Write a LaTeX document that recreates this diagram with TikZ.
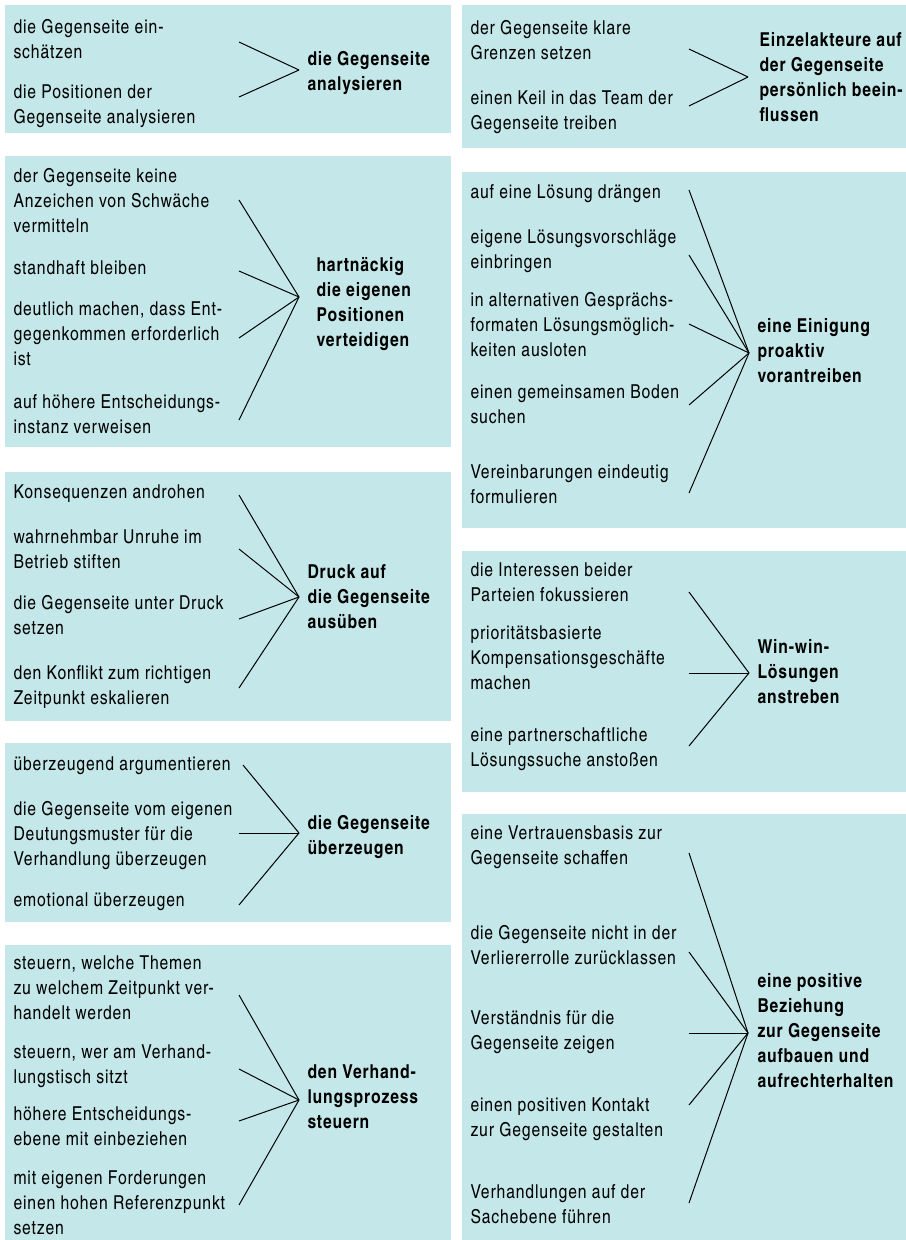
\documentclass[tikz,border=0pt]{standalone}
\usepackage{fontspec}
\setmainfont{texgyreheroscn}[Extension=.otf,UprightFont=*-regular,BoldFont=*-bold,LetterSpace=4.5]
\definecolor{boxblue}{RGB}{196,231,233}

\begin{document}
\begin{tikzpicture}[x=0.6pt,y=-0.6pt,line width=0.6pt,
    item/.style={anchor=base west,align=left,inner sep=0pt,
      font=\fontsize{11.5}{15}\selectfont},
    goal/.style={item,font=\fontsize{11.5}{15}\selectfont\bfseries},
    panel/.style={fill=boxblue}]

  \useasboundingbox (0,0) rectangle (906,1240);

  % left column
  \fill[panel] (5,5) rectangle (451,133);
  \node[item] (a_1) at (13,58) {die Gegenseite ein-\\schätzen};
  \node[item] (a_2) at (13,123) {die Positionen der\\Gegenseite analysieren};
  \coordinate (h_a) at (299,70);
  \node[goal] (g_a) at (307,90) {die Gegenseite\\analysieren};
  \foreach \y [count=\i] in {42,97}
    {\coordinate (sa_\i) at (239,\y); \draw (sa_\i) -- (h_a);}

  \fill[panel] (5,156) rectangle (451,447);
  \node[item] (b_1) at (13,232) {der Gegenseite keine\\Anzeichen von Schwäche\\vermitteln};
  \node[item] (b_2) at (13,274) {standhaft bleiben};
  \node[item] (b_3) at (13,365) {deutlich machen, dass Ent-\\gegenkommen erforderlich\\ist};
  \node[item] (b_4) at (13,433) {auf höhere Entscheidungs-\\instanz verweisen};
  \coordinate (h_b) at (299,297);
  \node[goal] (g_b) at (316,346) {hartnäckig\\die eigenen\\Positionen\\verteidigen};
  \foreach \y [count=\i] in {200,271,338,420}
    {\coordinate (sb_\i) at (239,\y); \draw (sb_\i) -- (h_b);}

  \fill[panel] (5,472) rectangle (451,721);
  \node[item] (c_1) at (13,498) {Konsequenzen androhen};
  \node[item] (c_2) at (13,568) {wahrnehmbar Unruhe im\\Betrieb stiften};
  \node[item] (c_3) at (13,634) {die Gegenseite unter Druck\\setzen};
  \node[item] (c_4) at (13,704) {den Konflikt zum richtigen\\Zeitpunkt eskalieren};
  \coordinate (h_c) at (299,597);
  \node[goal] (g_c) at (307,628) {Druck auf\\die Gegenseite\\ausüben};
  \foreach \y [count=\i] in {495,549,619,688}
    {\coordinate (sc_\i) at (239,\y); \draw (sc_\i) -- (h_c);}

  \fill[panel] (5,743) rectangle (451,922);
  \node[item] (d_1) at (13,770) {überzeugend argumentieren};
  \node[item] (d_2) at (13,865) {die Gegenseite vom eigenen\\Deutungsmuster für die\\Verhandlung überzeugen};
  \node[item] (d_3) at (13,906) {emotional überzeugen};
  \coordinate (h_d) at (299,833);
  \node[goal] (g_d) at (307,854) {die Gegenseite\\überzeugen};
  \foreach \x/\y [count=\i] in {243/765,239/833,239/905}
    {\coordinate (sd_\i) at (\x,\y); \draw (sd_\i) -- (h_d);}

  \fill[panel] (5,945) rectangle (451,1240);
  \node[item] (e_1) at (13,1019) {steuern, welche Themen\\zu welchem Zeitpunkt ver-\\handelt werden};
  \node[item] (e_2) at (13,1083) {steuern, wer am Verhand-\\lungstisch sitzt};
  \node[item] (e_3) at (13,1145) {höhere Entscheidungs-\\ebene mit einbeziehen};
  \node[item] (e_4) at (13,1234) {mit eigenen Forderungen\\einen hohen Referenzpunkt\\setzen};
  \coordinate (h_e) at (299,1100);
  \node[goal] (g_e) at (307,1128) {den Verhand-\\lungsprozess\\steuern};
  \foreach \y [count=\i] in {995,1069,1121,1205}
    {\coordinate (se_\i) at (239,\y); \draw (se_\i) -- (h_e);}

  % right column
  \fill[panel] (462,5) rectangle (906,148);
  \node[item] (f_1) at (470,59) {der Gegenseite klare\\Grenzen setzen};
  \node[item] (f_2) at (470,129) {einen Keil in das Team der\\Gegenseite treiben};
  \coordinate (h_f) at (748,77);
  \node[goal] (g_f) at (759,121) {Einzelakteure auf\\der Gegenseite\\persönlich beein-\\flussen};
  \foreach \y [count=\i] in {49,106}
    {\coordinate (sf_\i) at (689,\y); \draw (sf_\i) -- (h_f);}

  \fill[panel] (462,172) rectangle (906,528);
  \node[item] (k_1) at (470,198) {auf eine Lösung drängen};
  \node[item] (k_2) at (470,268) {eigene Lösungsvorschläge\\einbringen};
  \node[item] (k_3) at (470,356) {in alternativen Gesprächs-\\formaten Lösungsmöglich-\\keiten ausloten};
  \node[item] (k_4) at (470,423) {einen gemeinsamen Boden\\suchen};
  \node[item] (k_5) at (470,503) {Vereinbarungen eindeutig\\formulieren};
  \coordinate (h_k) at (749,353);
  \node[goal] (g_k) at (757,382) {eine Einigung\\proaktiv\\vorantreiben};
  \foreach \y [count=\i] in {190,255,324,405,493}
    {\coordinate (sk_\i) at (689,\y); \draw (sk_\i) -- (h_k);}

  \fill[panel] (462,551) rectangle (906,792);
  \node[item] (w_1) at (470,601) {die Interessen beider\\Parteien fokussieren};
  \node[item] (w_2) at (470,689) {prioritätsbasierte\\Kompensationsgeschäfte\\machen};
  \node[item] (w_3) at (470,766) {eine partnerschaftliche\\Lösungssuche anstoßen};
  \coordinate (h_w) at (749,673);
  \node[goal] (g_w) at (757,703) {Win-win-\\Lösungen\\anstreben};
  \foreach \y [count=\i] in {592,673,746}
    {\coordinate (sw_\i) at (689,\y); \draw (sw_\i) -- (h_w);}

  \fill[panel] (462,814) rectangle (906,1240);
  \node[item] (p_1) at (470,864) {eine Vertrauensbasis zur\\Gegenseite schaffen};
  \node[item] (p_2) at (470,964) {die Gegenseite nicht in der\\Verliererrolle zurücklassen};
  \node[item] (p_3) at (470,1049) {Verständnis für die\\Gegenseite zeigen};
  \node[item] (p_4) at (470,1136) {einen positiven Kontakt\\zur Gegenseite gestalten};
  \node[item] (p_5) at (470,1223) {Verhandlungen auf der\\Sachebene führen};
  \coordinate (h_p) at (748,1033);
  \node[goal] (g_p) at (757,1087) {eine positive\\Beziehung\\zur Gegenseite\\aufbauen und\\aufrechterhalten};
  \foreach \y [count=\i] in {853,952,1033,1105,1203}
    {\coordinate (sp_\i) at (689,\y); \draw (sp_\i) -- (h_p);}

\end{tikzpicture}
\end{document}
